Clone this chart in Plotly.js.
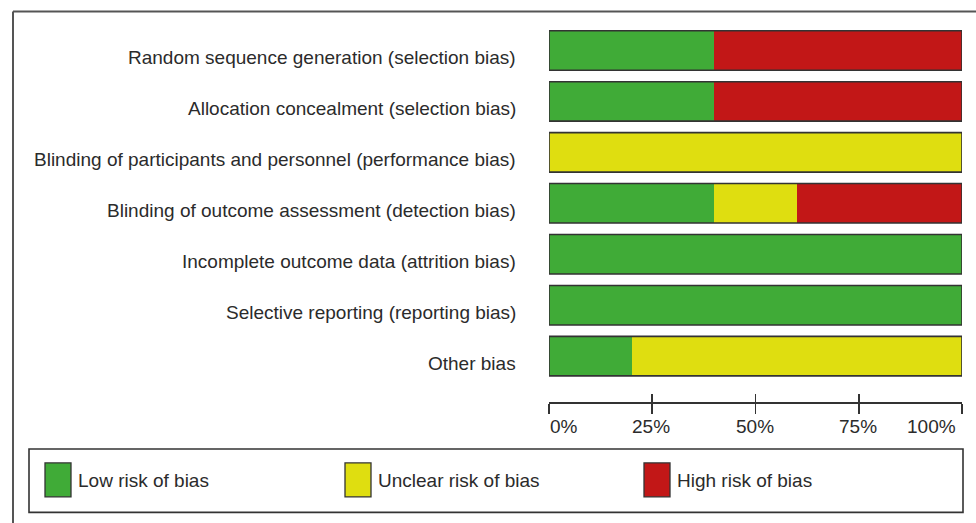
<!DOCTYPE html>
<html>
<head>
<meta charset="utf-8">
<script src="https://cdn.plot.ly/plotly-3.0.1.min.js"></script>
<style>
  html, body { margin: 0; padding: 0; background: #fff; }
  #chart { width: 976px; height: 523px; }
</style>
</head>
<body>
<div id="chart"></div>
<script>
// ---- data ----
const categories = [
  "Random sequence generation (selection bias)",
  "Allocation concealment (selection bias)",
  "Blinding of participants and personnel (performance bias)",
  "Blinding of outcome assessment (detection bias)",
  "Incomplete outcome data (attrition bias)",
  "Selective reporting (reporting bias)",
  "Other bias"
];
const lowRisk     = [40, 40, 0, 40, 100, 100, 20];
const unclearRisk = [0, 0, 100, 20, 0, 0, 80];
const highRisk    = [60, 60, 0, 40, 0, 0, 0];
const seriesNames = ["Low risk of bias", "Unclear risk of bias", "High risk of bias"];
const tickValues  = [0, 25, 50, 75, 100];
const tickLabels  = ["0%", "25%", "50%", "75%", "100%"];

// ---- style ----
const colors = ["#40AB37", "#DFDE10", "#C21717"];
const W = 976, H = 523;
const plotL = 549, plotR = 962, plotT = 24.5, plotB = 402;
const px = x => (x - plotL) / (plotR - plotL);
const py = y => (plotB - y) / (plotB - plotT);
const font = { family: "Liberation Sans, Arial, sans-serif", size: 19, color: "#2b2b2b" };
const barW = 0.775;

const series = [lowRisk, unclearRisk, highRisk];
const traces = series.map((vals, k) => ({
  type: "bar",
  orientation: "h",
  y: categories,
  x: vals,
  name: seriesNames[k],
  marker: { color: colors[k], line: { width: 0 } },
  width: barW,
  hoverinfo: "x+y+name",
  showlegend: false
}));
// invisible trace for second axis (inner ticks)
traces.push({ type: "scatter", x: [0, 100], y: [categories[0], categories[0]], xaxis: "x2", yaxis: "y",
  mode: "markers", marker: { opacity: 0 }, hoverinfo: "skip", showlegend: false });

const shapes = [];
const annotations = [];

// bar outlines and category labels
categories.forEach((c, i) => {
  shapes.push({ type: "rect", xref: "x", yref: "y", x0: 0, x1: 100,
    y0: i - barW / 2, y1: i + barW / 2, line: { color: "#333", width: 1.6 }, fillcolor: "rgba(0,0,0,0)", layer: "above" });
  annotations.push({ xref: "paper", yref: "y", x: px(518), y: c, xanchor: "right", yanchor: "middle",
    text: c, showarrow: false, font: font, yshift: -7 });
});

// tick labels
tickValues.forEach((v, i) => {
  const anchor = i === 0 ? "left" : (i === tickValues.length - 1 ? "right" : "center");
  annotations.push({ xref: "x", yref: "paper", x: v, y: py(427), xanchor: anchor, yanchor: "middle",
    text: tickLabels[i], showarrow: false, font: font, xshift: i === tickValues.length - 1 ? -4 : -1 });
});

// outer frame (top and left)
shapes.push({ type: "line", xref: "paper", yref: "paper", x0: px(13), x1: px(980), y0: py(11), y1: py(11),
  line: { color: "#555", width: 2 } });
shapes.push({ type: "line", xref: "paper", yref: "paper", x0: px(13), x1: px(13), y0: py(11), y1: py(530),
  line: { color: "#555", width: 2 } });

// legend box
shapes.push({ type: "rect", xref: "paper", yref: "paper", x0: px(29), x1: px(963), y0: py(449), y1: py(512.5),
  line: { color: "#333", width: 1.6 }, fillcolor: "rgba(0,0,0,0)" });
const legendX = [45, 345, 644];
seriesNames.forEach((n, k) => {
  shapes.push({ type: "rect", xref: "paper", yref: "paper", x0: px(legendX[k]), x1: px(legendX[k] + 26),
    y0: py(463), y1: py(497), line: { color: "#333", width: 1.3 }, fillcolor: colors[k] });
  annotations.push({ xref: "paper", yref: "paper", x: px(legendX[k] + 31), y: py(481), xanchor: "left", yanchor: "middle",
    text: n, showarrow: false, font: font });
});

const layout = {
  width: W, height: H,
  margin: { l: plotL, r: W - plotR, t: plotT, b: H - plotB, pad: 0 },
  paper_bgcolor: "#fff", plot_bgcolor: "#fff",
  barmode: "stack",
  showlegend: false,
  font: font,
  xaxis: { range: [0, 100], tickvals: tickValues, showticklabels: false, ticks: "outside", ticklen: 10,
    tickwidth: 1.6, tickcolor: "#333", showline: true, linecolor: "#333", linewidth: 1.6,
    showgrid: false, zeroline: false, fixedrange: true },
  xaxis2: { range: [0, 100], overlaying: "x", anchor: "y", side: "bottom", tickvals: tickValues,
    showticklabels: false, ticks: "inside", ticklen: 8, tickwidth: 1.6, tickcolor: "#333",
    showline: false, showgrid: false, zeroline: false, fixedrange: true },
  yaxis: { type: "category", categoryarray: categories, range: [6.9, -0.5], showticklabels: false,
    ticks: "", showline: false, showgrid: false, zeroline: false, fixedrange: true },
  shapes: shapes,
  annotations: annotations
};

Plotly.newPlot("chart", traces, layout, { displayModeBar: false, staticPlot: true });
</script>
</body>
</html>
